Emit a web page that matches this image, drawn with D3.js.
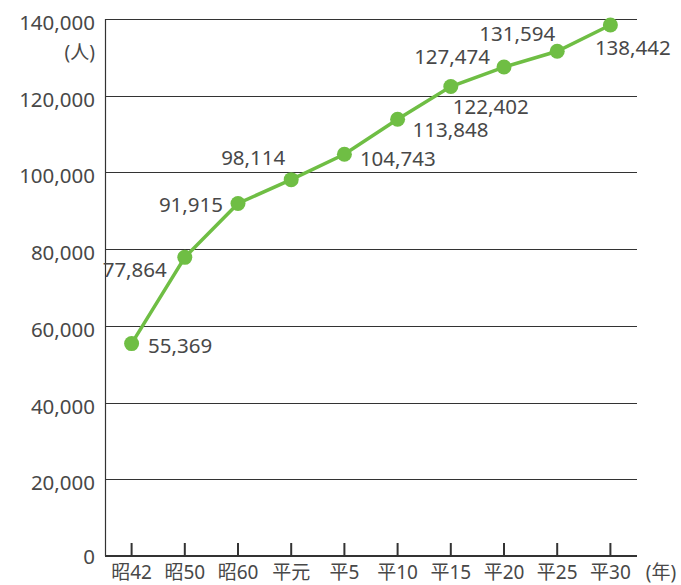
<!DOCTYPE html>
<html>
<head>
<meta charset="utf-8">
<script src="https://cdn.jsdelivr.net/npm/d3@7"></script>
<style>
body { margin: 0; background: #fff; }
text { font-family: "Noto Sans", "Noto Sans CJK JP", sans-serif; fill: #484848; }
</style>
</head>
<body>
<script>
var years = ["昭42", "昭50", "昭60", "平元", "平5", "平10", "平15", "平20", "平25", "平30"];
var population = [55369, 77864, 91915, 98114, 104743, 113848, 122402, 127474, 131594, 138442];
var yTicks = [0, 20000, 40000, 60000, 80000, 100000, 120000, 140000];

// where each value label sits relative to its point
var labelPos = [
  {dx: 16.5, dy: 9, anchor: "start"},
  {dx: -18, dy: 20, anchor: "end"},
  {dx: -15, dy: 9, anchor: "end"},
  {dx: -38, dy: -15, anchor: "middle"},
  {dx: 15.5, dy: 12, anchor: "start"},
  {dx: 15, dy: 18, anchor: "start"},
  {dx: 2, dy: 27, anchor: "start"},
  {dx: -14, dy: -3, anchor: "end"},
  {dx: -2, dy: -10, anchor: "end"},
  {dx: -15.5, dy: 30, anchor: "start"}
];

var width = 681, height = 585;
var mLeft = 105, mRight = 637, mTop = 19, mBottom = 556;

var svg = d3.select("body").append("svg")
  .attr("width", width)
  .attr("height", height);

var x = d3.scaleBand().domain(years).range([mLeft, mRight]);
var y = d3.scaleLinear().domain([0, 140000]).range([mBottom, mTop]);
var cx = function(d) { return x(d) + x.bandwidth() / 2; };

// gridlines
svg.selectAll(".grid")
  .data(yTicks.filter(function(d) { return d > 0; }))
  .enter().append("line")
  .attr("x1", mLeft).attr("x2", mRight)
  .attr("y1", function(d) { return Math.round(y(d)) + 0.5; })
  .attr("y2", function(d) { return Math.round(y(d)) + 0.5; })
  .attr("stroke", "#333").attr("stroke-width", 1);

// y axis line
svg.append("line")
  .attr("x1", mLeft + 0.5).attr("x2", mLeft + 0.5)
  .attr("y1", mTop).attr("y2", mBottom)
  .attr("stroke", "#333").attr("stroke-width", 1.2);

// y labels
svg.selectAll(".ylab")
  .data(yTicks)
  .enter().append("text")
  .attr("x", 95)
  .attr("y", function(d) { return y(d) + (d === 0 ? 8 : 11); })
  .attr("text-anchor", "end")
  .attr("font-size", 20.5)
  .text(function(d) { return d === 0 ? "0" : d3.format(",")(d); });

svg.append("text")
  .attr("x", 95).attr("y", 59)
  .attr("text-anchor", "end")
  .attr("font-size", 19)
  .text("(人)");

// x axis
svg.append("line")
  .attr("x1", mLeft).attr("x2", mRight)
  .attr("y1", mBottom).attr("y2", mBottom)
  .attr("stroke", "#333").attr("stroke-width", 2.2);

svg.selectAll(".tick")
  .data(years)
  .enter().append("line")
  .attr("x1", cx).attr("x2", cx)
  .attr("y1", mBottom).attr("y2", mBottom - 13)
  .attr("stroke", "#333").attr("stroke-width", 2);

svg.selectAll(".xlab")
  .data(years)
  .enter().append("text")
  .attr("x", cx)
  .attr("y", 579)
  .attr("text-anchor", "middle")
  .attr("font-size", 19)
  .text(function(d) { return d; });

svg.append("text")
  .attr("x", 661).attr("y", 579)
  .attr("text-anchor", "middle")
  .attr("font-size", 19)
  .text("(年)");

// line + points
var pts = years.map(function(d, i) { return [cx(d), y(population[i])]; });

svg.append("path")
  .attr("d", d3.line()(pts))
  .attr("fill", "none")
  .attr("stroke", "#6fbe44")
  .attr("stroke-width", 3.5);

svg.selectAll(".pt")
  .data(pts)
  .enter().append("circle")
  .attr("cx", function(d) { return d[0]; })
  .attr("cy", function(d) { return d[1]; })
  .attr("r", 7.5)
  .attr("fill", "#6fbe44");

svg.selectAll(".vlab")
  .data(population)
  .enter().append("text")
  .attr("x", function(d, i) { return pts[i][0] + labelPos[i].dx; })
  .attr("y", function(d, i) { return pts[i][1] + labelPos[i].dy; })
  .attr("text-anchor", function(d, i) { return labelPos[i].anchor; })
  .attr("font-size", 20.5)
  .text(function(d) { return d3.format(",")(d); });
</script>
</body>
</html>
